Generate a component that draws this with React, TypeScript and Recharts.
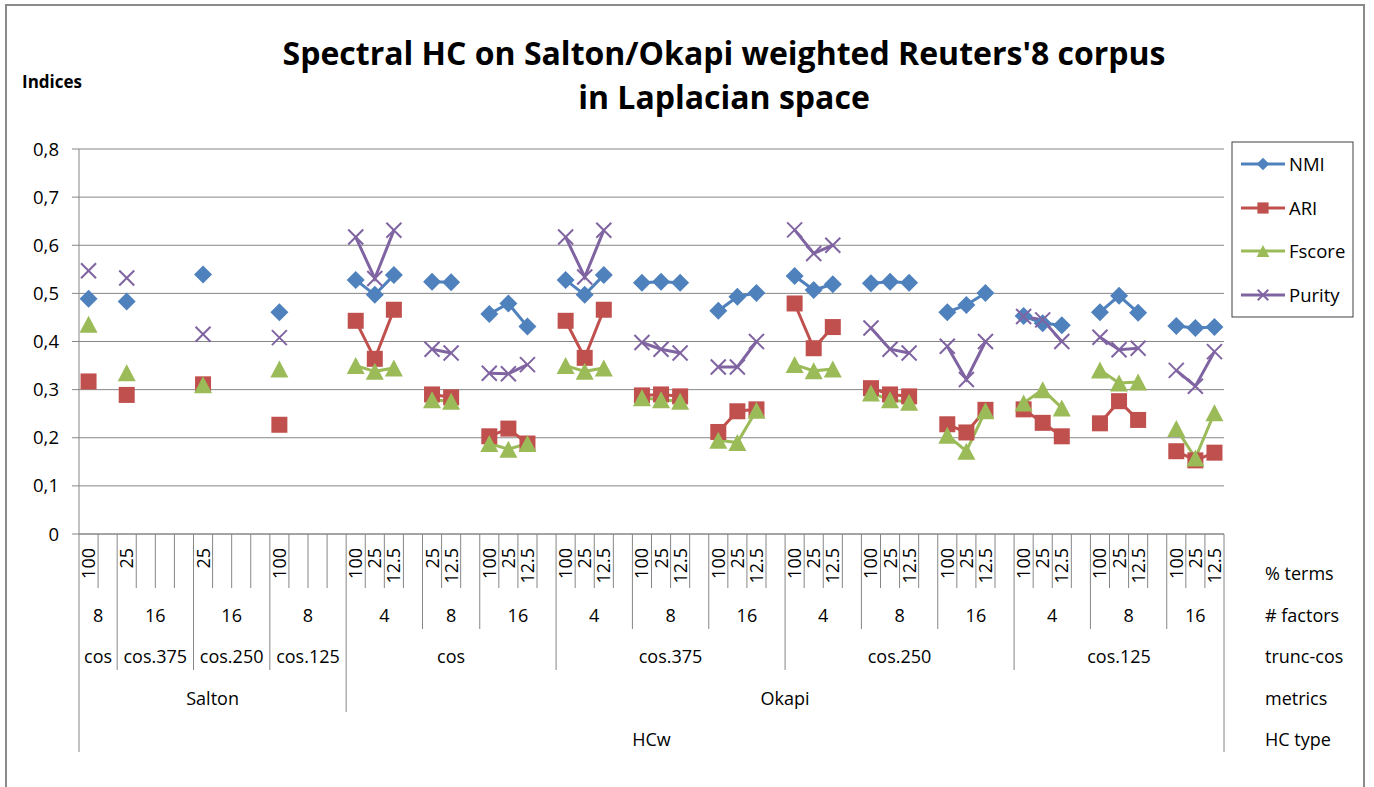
import React from "react";
import { LineChart, Line, XAxis, YAxis, CartesianGrid } from "recharts";

const FONT = "'Open Sans', 'DejaVu Sans', sans-serif";

// % terms, one per slot on the x axis
const pctTerms = [
  "100", "",
  "25", "", "", "",
  "25", "", "", "",
  "100", "", "", "",
  "100", "25", "12.5", "",
  "25", "12.5", "",
  "100", "25", "12.5", "",
  "100", "25", "12.5", "",
  "100", "25", "12.5", "",
  "100", "25", "12.5", "",
  "100", "25", "12.5", "",
  "100", "25", "12.5", "",
  "100", "25", "12.5", "",
  "100", "25", "12.5", "",
  "100", "25", "12.5", "",
  "100", "25", "12.5",
];

// higher level groups: [label, number of slots]
const factors: [string, number][] = [
  ["8", 2], ["16", 4], ["16", 4], ["8", 4],
  ["4", 4], ["8", 3], ["16", 4],
  ["4", 4], ["8", 4], ["16", 4],
  ["4", 4], ["8", 4], ["16", 4],
  ["4", 4], ["8", 4], ["16", 3],
];
const truncCos: [string, number][] = [
  ["cos", 2], ["cos.375", 4], ["cos.250", 4], ["cos.125", 4],
  ["cos", 11], ["cos.375", 12], ["cos.250", 12], ["cos.125", 11],
];
const metrics: [string, number][] = [["Salton", 14], ["Okapi", 46]];
const hcType: [string, number][] = [["HCw", 60]];
const rowNames = ["% terms", "# factors", "trunc-cos", "metrics", "HC type"];

const nmi = [
  0.489, null,
  0.483, null, null, null,
  0.539, null, null, null,
  0.461, null, null, null,
  0.528, 0.497, 0.538, null,
  0.524, 0.523, null,
  0.457, 0.479, 0.431, null,
  0.528, 0.497, 0.538, null,
  0.522, 0.524, 0.522, null,
  0.464, 0.493, 0.501, null,
  0.536, 0.507, 0.519, null,
  0.521, 0.524, 0.522, null,
  0.461, 0.476, 0.501, null,
  0.453, 0.438, 0.434, null,
  0.461, 0.495, 0.46, null,
  0.432, 0.428, 0.43,
];
const ari = [
  0.317, null,
  0.289, null, null, null,
  0.311, null, null, null,
  0.227, null, null, null,
  0.443, 0.364, 0.466, null,
  0.29, 0.284, null,
  0.203, 0.219, 0.188, null,
  0.443, 0.366, 0.466, null,
  0.288, 0.29, 0.286, null,
  0.212, 0.255, 0.259, null,
  0.479, 0.386, 0.43, null,
  0.303, 0.29, 0.286, null,
  0.228, 0.211, 0.258, null,
  0.259, 0.231, 0.203, null,
  0.23, 0.276, 0.237, null,
  0.172, 0.153, 0.169,
];
const fscore = [
  0.436, null,
  0.335, null, null, null,
  0.31, null, null, null,
  0.343, null, null, null,
  0.35, 0.338, 0.345, null,
  0.279, 0.276, null,
  0.188, 0.176, 0.188, null,
  0.35, 0.338, 0.345, null,
  0.283, 0.279, 0.276, null,
  0.195, 0.19, 0.257, null,
  0.352, 0.339, 0.343, null,
  0.293, 0.279, 0.274, null,
  0.205, 0.172, 0.256, null,
  0.272, 0.3, 0.262, null,
  0.341, 0.314, 0.316, null,
  0.219, 0.158, 0.252,
];
const purity = [
  0.547, null,
  0.532, null, null, null,
  0.415, null, null, null,
  0.408, null, null, null,
  0.617, 0.531, 0.631, null,
  0.384, 0.376, null,
  0.334, 0.333, 0.352, null,
  0.617, 0.534, 0.631, null,
  0.398, 0.384, 0.376, null,
  0.347, 0.347, 0.4, null,
  0.632, 0.583, 0.6, null,
  0.428, 0.384, 0.376, null,
  0.39, 0.321, 0.4, null,
  0.452, 0.445, 0.4, null,
  0.409, 0.383, 0.386, null,
  0.34, 0.307, 0.379,
];

const yTicks = [0, 0.1, 0.2, 0.3, 0.4, 0.5, 0.6, 0.7, 0.8];

const data = pctTerms.map((t, i) => ({
  slot: i,
  nmi: nmi[i],
  ari: ari[i],
  fscore: fscore[i],
  purity: purity[i],
}));

const series = [
  { key: "nmi", name: "NMI", color: "#4F81BD", marker: "diamond" },
  { key: "ari", name: "ARI", color: "#C0504D", marker: "square" },
  { key: "fscore", name: "Fscore", color: "#9BBB59", marker: "triangle" },
  { key: "purity", name: "Purity", color: "#8064A2", marker: "x" },
];

// layout
const W = 1374;
const H = 787;
const M = { top: 149, right: 150, bottom: 28, left: 19 };
const Y_AXIS_W = 60;
const X_AXIS_H = 225;
const PLOT_W = W - M.left - M.right - Y_AXIS_W;
const SLOT_W = PLOT_W / pctTerms.length;
const GRAY = "#868686";

function starts(groups: [string, number][]) {
  const m = new Map<number, [string, number]>();
  let s = 0;
  groups.forEach((g) => {
    m.set(s, g);
    s += g[1];
  });
  return m;
}
const levels = [starts(factors), starts(truncCos), starts(metrics), starts(hcType)];
const lineLen = [54, 95, 136, 178, 218];
const labelOffset = [88, 129, 171, 212];

function Marker({ kind, cx, cy, color, s = 1 }: any) {
  if (kind === "diamond") {
    const r = 9 * s;
    return <polygon points={`${cx},${cy - r} ${cx + r},${cy} ${cx},${cy + r} ${cx - r},${cy}`} fill={color} />;
  }
  if (kind === "square") {
    const r = 8 * s;
    return <rect x={cx - r} y={cy - r} width={2 * r} height={2 * r} fill={color} />;
  }
  if (kind === "triangle") {
    const r = 8.5 * s;
    return <polygon points={`${cx},${cy - r} ${cx + r * 1.06},${cy + r} ${cx - r * 1.06},${cy + r}`} fill={color} />;
  }
  const r = 7.5 * s;
  return (
    <g stroke={color} strokeWidth={2}>
      <line x1={cx - r} y1={cy - r} x2={cx + r} y2={cy + r} />
      <line x1={cx - r} y1={cy + r} x2={cx + r} y2={cy - r} />
    </g>
  );
}

const makeDot = (kind: string, color: string) => (props: any) => {
  const { cx, cy, index, value } = props;
  if (value == null || cx == null || cy == null || isNaN(cy)) return <g key={`e-${index}`} />;
  return (
    <g key={`d-${index}`}>
      <Marker kind={kind} cx={cx} cy={cy} color={color} />
    </g>
  );
};

function SlotTick(props: any) {
  const { x, y, payload } = props;
  const i = payload.value as number;
  let lvl = 0;
  levels.forEach((m, k) => {
    if (m.has(i)) lvl = k + 1;
  });
  const left = x - SLOT_W / 2;
  const label = pctTerms[i];
  return (
    <g>
      <line x1={left} y1={y} x2={left} y2={y + lineLen[lvl]} stroke={GRAY} />
      {i === pctTerms.length - 1 && (
        <line x1={x + SLOT_W / 2} y1={y} x2={x + SLOT_W / 2} y2={y + lineLen[4]} stroke={GRAY} />
      )}
      {label && (
        <text
          x={x}
          y={y + 14}
          transform={`rotate(-90, ${x}, ${y + 14})`}
          textAnchor="end"
          dy="0.36em"
          fontSize={18}
          fontFamily={FONT}
          fill="#000"
        >
          {label}
        </text>
      )}
      {levels.map((m, k) => {
        const g = m.get(i);
        if (!g) return null;
        return (
          <text
            key={k}
            x={left + (g[1] * SLOT_W) / 2}
            y={y + labelOffset[k]}
            textAnchor="middle"
            fontSize={18}
            fontFamily={FONT}
            fill="#000"
          >
            {g[0]}
          </text>
        );
      })}
    </g>
  );
}

const legendRows = [164, 208, 251, 295];
const rowBaselines = [580, 622, 663, 705, 746];

export default function App() {
  return (
    <div
      style={{
        position: "fixed",
        left: 0,
        top: 0,
        width: W,
        height: H,
        overflow: "hidden",
        background: "#fff",
        fontFamily: FONT,
      }}
    >
      <div
        style={{
          position: "absolute",
          left: 5,
          top: 4,
          width: 1360,
          height: 830,
          border: "2px solid #8a8a8a",
          boxSizing: "border-box",
        }}
      />
      <div style={{ position: "absolute", left: 0, top: 0 }}>
        <LineChart width={W} height={H} data={data} margin={M}>
          <CartesianGrid vertical={false} stroke={GRAY} />
          <XAxis
            dataKey="slot"
            type="category"
            interval={0}
            padding={{ left: SLOT_W / 2, right: SLOT_W / 2 }}
            tickLine={false}
            tickSize={0}
            tickMargin={0}
            height={X_AXIS_H}
            axisLine={{ stroke: GRAY }}
            tick={<SlotTick />}
          />
          <YAxis
            width={Y_AXIS_W}
            domain={[0, 0.8]}
            ticks={yTicks}
            interval={0}
            tickSize={7}
            tickMargin={13}
            axisLine={{ stroke: GRAY }}
            tickLine={{ stroke: GRAY }}
            tick={{ fontSize: 18.5, fill: "#000", fontFamily: FONT }}
            tickFormatter={(v: number) => (v === 0 ? "0" : v.toFixed(1).replace(".", ","))}
          />
          {series.map((s) => (
            <Line
              key={s.key}
              dataKey={s.key}
              name={s.name}
              type="linear"
              stroke={s.color}
              strokeWidth={3}
              dot={makeDot(s.marker, s.color)}
              activeDot={false}
              isAnimationActive={false}
            />
          ))}
        </LineChart>
      </div>
      <svg
        width={W}
        height={H}
        style={{ position: "absolute", left: 0, top: 0, pointerEvents: "none" }}
        fontFamily={FONT}
      >
        <text x={724} y={65} textAnchor="middle" fontSize={32} fontWeight="bold" fill="#000">
          Spectral HC on Salton/Okapi weighted Reuters'8 corpus
        </text>
        <text x={724} y={109} textAnchor="middle" fontSize={32} fontWeight="bold" fill="#000">
          in Laplacian space
        </text>
        <text x={22} y={88} fontSize={17} fontWeight="bold" fill="#000">
          Indices
        </text>
        <rect x={1232} y={142} width={121} height={175} fill="#fff" stroke="#404040" />
        {series.map((s, k) => (
          <g key={s.key}>
            <line x1={1241} y1={legendRows[k]} x2={1285} y2={legendRows[k]} stroke={s.color} strokeWidth={3} />
            <Marker kind={s.marker} cx={1263} cy={legendRows[k]} color={s.color} s={0.7} />
            <text x={1289} y={legendRows[k] + 6.5} fontSize={18.5} fill="#000">
              {s.name}
            </text>
          </g>
        ))}
        {rowNames.map((n, k) => (
          <text key={n} x={1265} y={rowBaselines[k]} fontSize={18} fill="#000">
            {n}
          </text>
        ))}
      </svg>
    </div>
  );
}
